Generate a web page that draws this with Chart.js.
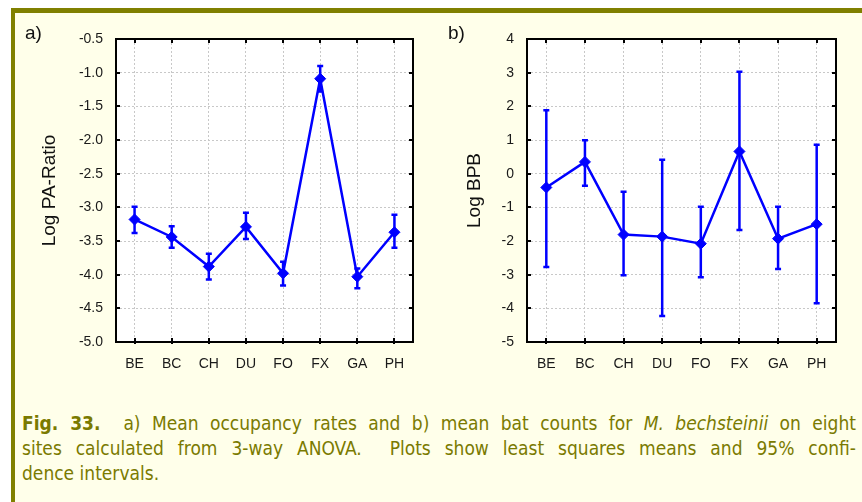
<!DOCTYPE html>
<html>
<head>
<meta charset="utf-8">
<script src="https://cdn.jsdelivr.net/npm/chart.js@4.4.1/dist/chart.umd.min.js"></script>
<style>
  html, body { margin: 0; padding: 0; background: #ffffff; }
  body { width: 862px; height: 502px; position: relative; overflow: hidden; font-family: "Liberation Sans", Arial, sans-serif; }
  #panel { position: absolute; left: 11px; top: 8px; width: 851px; height: 494px;
           border-top: 5px solid #808000; border-left: 4px solid #808000; background: #ffffea; box-sizing: border-box; }
  canvas { position: absolute; top: 0; }
  #c1 { left: 0; }
  #c2 { left: 431px; }
  .tag { position: absolute; top: 22px; font-size: 19px; color: #111; }
  #cap { position: absolute; left: 22px; top: 411px; width: 834px; color: #7a7a00;
         font-family: "DejaVu Sans Condensed", "DejaVu Sans", sans-serif; font-size: 19px; line-height: 25px; }
  #cap .j { text-align: justify; text-align-last: justify; white-space: nowrap; }
</style>
</head>
<body>
<div id="panel"></div>
<canvas id="c1" width="431" height="380"></canvas>
<canvas id="c2" width="431" height="380"></canvas>
<div class="tag" style="left:25px">a)</div>
<div class="tag" style="left:448px">b)</div>
<div id="cap">
  <div class="j"><b>Fig. 33.</b>&nbsp; a) Mean occupancy rates and b) mean bat counts for <i>M. bechsteinii</i> on eight</div>
  <div class="j">sites calculated from 3-way ANOVA.&nbsp; Plots show least squares means and 95% confi-</div>
  <div>dence intervals.</div>
</div>
<script>
const sites = ["BE", "BC", "CH", "DU", "FO", "FX", "GA", "PH"];

// a) Log PA-Ratio: means and 95% limits
const paMean = [-3.18, -3.44, -3.88, -3.29, -3.98, -1.09, -4.03, -3.37];
const paLow  = [-3.38, -3.60, -4.07, -3.47, -4.16, -1.28, -4.20, -3.60];
const paHigh = [-2.99, -3.28, -3.69, -3.08, -3.81, -0.90, -3.91, -3.11];

// b) Log BPB: means and 95% limits
const bpbMean = [-0.41, 0.35, -1.81, -1.87, -2.08, 0.66, -1.93, -1.50];
const bpbLow  = [-2.77, -0.36, -3.02, -4.23, -3.08, -1.67, -2.83, -3.85];
const bpbHigh = [1.88, 0.99, -0.54, 0.41, -0.98, 3.03, -0.98, 0.86];

const BLUE = "#0000ff";

// white plot area, error bars under the line, frame + inward ticks on top
const plotBack = {
  id: "plotBack",
  beforeDraw(chart) {
    const a = chart.chartArea, ctx = chart.ctx;
    ctx.save();
    ctx.fillStyle = "#ffffff";
    ctx.fillRect(a.left, a.top, a.right - a.left, a.bottom - a.top);
    ctx.restore();
  },
  beforeDatasetsDraw(chart) {
    const ci = chart.options.plugins.plotBack;
    const x = chart.scales.x, y = chart.scales.y, ctx = chart.ctx;
    ctx.save();
    ctx.strokeStyle = BLUE;
    ctx.lineWidth = 2.5;
    ci.low.forEach((lo, i) => {
      const px = x.getPixelForValue(i);
      const y1 = y.getPixelForValue(lo), y2 = y.getPixelForValue(ci.high[i]);
      ctx.beginPath();
      ctx.moveTo(px, y1); ctx.lineTo(px, y2);
      ctx.moveTo(px - 3, y1); ctx.lineTo(px + 3, y1);
      ctx.moveTo(px - 3, y2); ctx.lineTo(px + 3, y2);
      ctx.stroke();
    });
    ctx.restore();
  },
  afterDraw(chart) {
    const a = chart.chartArea, ctx = chart.ctx;
    const x = chart.scales.x, y = chart.scales.y;
    ctx.save();
    ctx.strokeStyle = "#000";
    ctx.lineWidth = 2;
    ctx.strokeRect(a.left, a.top, a.right - a.left, a.bottom - a.top);
    ctx.beginPath();
    y.ticks.forEach(t => {
      const py = Math.round(y.getPixelForValue(t.value));
      ctx.moveTo(a.left, py); ctx.lineTo(a.left + 4, py);
      ctx.moveTo(a.right, py); ctx.lineTo(a.right - 4, py);
    });
    x.ticks.forEach((t, i) => {
      const px = Math.round(x.getPixelForValue(i));
      ctx.moveTo(px, a.top); ctx.lineTo(px, a.top + 4);
      ctx.moveTo(px, a.bottom + 2); ctx.lineTo(px, a.bottom - 4);
    });
    ctx.stroke();
    ctx.restore();
  }
};

function makeChart(id, opt) {
  return new Chart(document.getElementById(id), {
    type: "line",
    data: {
      labels: sites,
      datasets: [{
        data: opt.mean,
        borderColor: BLUE,
        backgroundColor: BLUE,
        borderWidth: 2.5,
        pointStyle: "rectRot",
        pointRadius: 5.5,
        pointBorderWidth: 1,
        tension: 0
      }]
    },
    options: {
      responsive: false,
      animation: false,
      layout: { padding: { left: 0, top: 39, right: opt.padRight, bottom: 0 } },
      plugins: {
        legend: { display: false },
        tooltip: { enabled: false },
        plotBack: { low: opt.low, high: opt.high }
      },
      scales: {
        x: {
          offset: true,
          grid: { offset: false, color: "#c8c8c8", lineWidth: 1, drawTicks: false },
          border: { display: false, dash: [2, 2] },
          ticks: { color: "#1a1a1a", font: { size: 14, family: "Liberation Sans" }, padding: 14 },
          afterFit(s) { s.height = 38; }
        },
        y: {
          min: opt.min, max: opt.max,
          grid: { color: "#c8c8c8", lineWidth: 1, drawTicks: false },
          border: { display: false, dash: [2, 2] },
          ticks: {
            stepSize: opt.step,
            color: "#1a1a1a",
            font: { size: 14, family: "Liberation Sans" },
            padding: 13,
            callback: v => opt.fmt(v)
          },
          title: {
            display: true, text: opt.title, color: "#111",
            font: { size: 19, family: "Liberation Sans" },
            padding: { top: opt.titlePad, bottom: 0 }
          },
          afterFit(s) { s.width = opt.axisWidth; }
        }
      }
    },
    plugins: [plotBack]
  });
}

makeChart("c1", {
  mean: paMean, low: paLow, high: paHigh,
  min: -5, max: -0.5, step: 0.5, fmt: v => v.toFixed(1),
  title: "Log PA-Ratio", titlePad: 38, axisWidth: 116, padRight: 18
});

makeChart("c2", {
  mean: bpbMean, low: bpbLow, high: bpbHigh,
  min: -5, max: 4, step: 1, fmt: v => String(v),
  title: "Log BPB", titlePad: 32, axisWidth: 96, padRight: 26
});
</script>
</body>
</html>
